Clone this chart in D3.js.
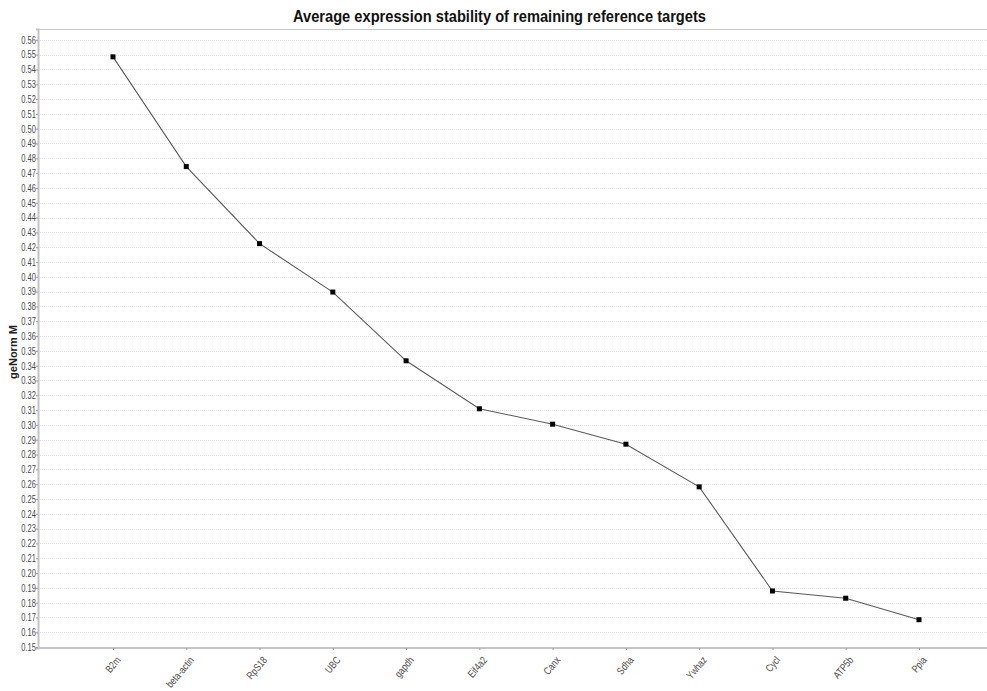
<!DOCTYPE html>
<html>
<head>
<meta charset="utf-8">
<script src="https://cdn.jsdelivr.net/npm/d3@7"></script>
<style>
  html, body { margin: 0; padding: 0; background: #fff; }
  svg { display: block; }
</style>
</head>
<body>
<svg id="chart" width="987" height="691"></svg>
<script>
// Reference gene ranking (least stable first) and their average geNorm M values
const genes = ["B2m", "beta-actin", "RpS18", "UBC", "gapdh", "Eif4a2", "Canx", "Sdha", "Ywhaz", "Cycl", "ATP5b", "Ppia"];
const mValues = [0.5485, 0.4744, 0.4224, 0.3897, 0.3433, 0.3109, 0.3005, 0.2870, 0.2582, 0.1879, 0.1830, 0.1685];
const yTicks = d3.range(15, 57).map(v => v / 100);

const title = "Average expression stability of remaining reference targets";
const yLabel = "geNorm M";

const FONT = '"Liberation Sans", Arial, sans-serif';
const svg = d3.select("#chart");
const plot = { left: 38, right: 987, top: 29, bottom: 648 };

const x = d3.scalePoint().domain(genes).range([113, 919]);
const y = d3.scaleLinear().domain([0.1494, 0.5673]).range([plot.bottom, plot.top]);

// horizontal dotted grid
svg.append("g")
  .selectAll("line")
  .data(yTicks)
  .join("line")
  .attr("x1", plot.left).attr("x2", plot.right)
  .attr("y1", d => Math.round(y(d)) + 0.5).attr("y2", d => Math.round(y(d)) + 0.5)
  .attr("stroke", "#e2e2e2")
  .attr("stroke-width", 1)
  .attr("stroke-dasharray", "1,1");

// top frame line
svg.append("line")
  .attr("x1", plot.left).attr("x2", plot.right)
  .attr("y1", plot.top + 0.5).attr("y2", plot.top + 0.5)
  .attr("stroke", "#c8c8c8");

// y axis (labels condensed horizontally)
const yAxis = svg.append("g")
  .attr("transform", `translate(${plot.left},0)`)
  .call(d3.axisLeft(y).tickValues(yTicks).tickFormat(d3.format(".2f")).tickSize(2).tickPadding(0));
yAxis.select(".domain").attr("stroke", "#c4c4c4").attr("stroke-width", 2);
yAxis.selectAll(".tick line").attr("stroke", "#999");
yAxis.selectAll(".tick text")
  .attr("fill", "#4a4a4a").attr("font-size", 10.5).attr("font-family", FONT)
  .attr("x", -3)
  .attr("transform", "scale(0.72,1)");

// x axis
const xAxis = svg.append("g")
  .attr("transform", `translate(0,${plot.bottom})`)
  .call(d3.axisBottom(x).tickSize(2).tickPadding(0));
xAxis.select(".domain").attr("stroke", "#c4c4c4").attr("stroke-width", 2)
  .attr("d", `M${plot.left},0H${plot.right}`);
xAxis.selectAll(".tick line").attr("stroke", "#999");
xAxis.selectAll(".tick text")
  .attr("fill", "#4a4a4a").attr("font-size", 10.5).attr("font-family", FONT)
  .attr("text-anchor", "end")
  .attr("x", 0).attr("y", 0).attr("dy", "0.35em")
  .attr("transform", "translate(5,10) rotate(-50) scale(0.8,1)");

// series line
svg.append("path")
  .datum(genes.map((g, i) => [g, mValues[i]]))
  .attr("fill", "none")
  .attr("stroke", "#5a5a5a")
  .attr("stroke-width", 1.1)
  .attr("d", d3.line().x(d => x(d[0])).y(d => y(d[1])));

// square markers
svg.append("g")
  .selectAll("rect")
  .data(genes.map((g, i) => [g, mValues[i]]))
  .join("rect")
  .attr("x", d => x(d[0]) - 2.5)
  .attr("y", d => y(d[1]) - 2.5)
  .attr("width", 5).attr("height", 5)
  .attr("fill", "#000");

// title
svg.append("text")
  .attr("x", 293).attr("y", 22)
  .attr("textLength", 413)
  .attr("lengthAdjust", "spacingAndGlyphs")
  .attr("font-family", FONT)
  .attr("font-weight", "bold")
  .attr("font-size", 17)
  .attr("fill", "#111")
  .text(title);

// y label
svg.append("text")
  .attr("transform", `translate(17,352) rotate(-90)`)
  .attr("text-anchor", "middle")
  .attr("font-family", FONT)
  .attr("font-weight", "bold")
  .attr("font-size", 11)
  .attr("fill", "#222")
  .text(yLabel);
</script>
</body>
</html>
